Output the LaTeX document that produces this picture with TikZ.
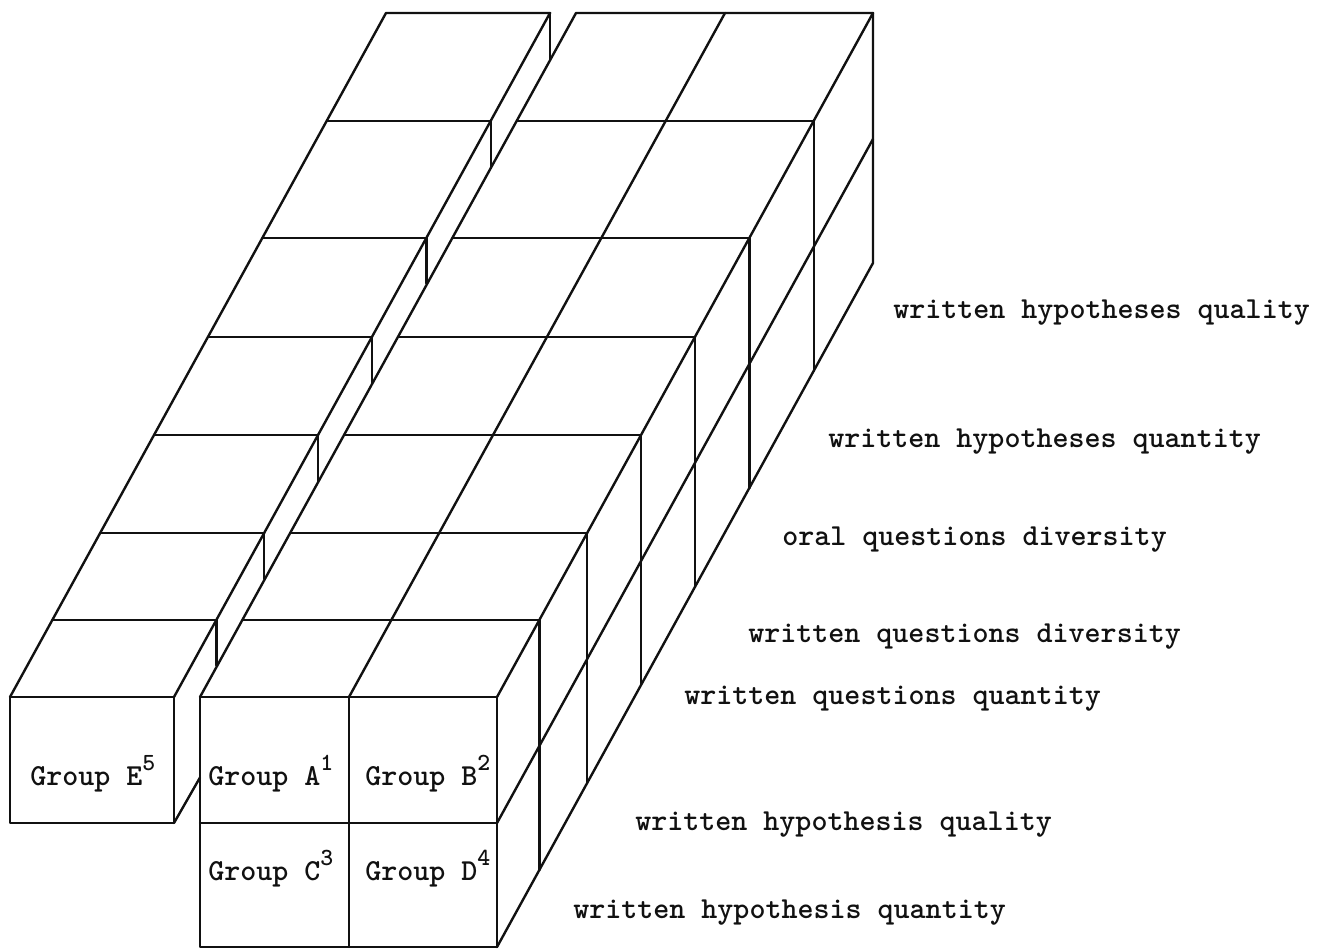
\documentclass[tikz,border=0pt]{standalone}
\usepackage{tikz}
\usetikzlibrary{calc}
\definecolor{ink}{HTML}{111111}
\definecolor{paper}{HTML}{FFFFFF}
\tikzset{
  edge/.style={draw=ink, line width=1.7pt, line join=round, line cap=round},
  dimlabel/.style={font=\fontsize{21.7}{26}\selectfont\ttfamily\bfseries, text=ink, anchor=base west, inner sep=0pt},
  grouplabel/.style={dimlabel},
}
\newcommand{\grpnum}[1]{\raisebox{10.2pt}{\fontsize{17.5}{18}\selectfont #1}}

\begin{document}
\begin{tikzpicture}[x=0.025cm,y=-0.025cm]
  \fill[paper] (0,0) rectangle (1326,949);
  \useasboundingbox (0,0) rectangle (1326,949);
  % depth rows, front to back
  \def\rows{697,620,533,435,337,238,121,13}

  % group E slab
  \draw[edge] (10,697) rectangle (174,823);
  \draw[edge] (10,697) -- (386,13) -- (550,13) -- (174,697);
  \foreach \y in \rows {
    \pgfmathsetmacro\s{0.55*(697-\y)}
    \draw[edge] (10+\s,\y) -- (174+\s,\y);
    \draw[edge] (174+\s,\y) -- (174+\s,\y+45.5);
  }
  \draw[edge] (174,823) -- (200,777.5);

  % main block, front face
  \draw[edge] (200,697) rectangle (497,947);
  \draw[edge] (349,697) -- (349,947);
  \draw[edge] (200,823) -- (497,823);
  % top face and right side
  \draw[edge] (200,697) -- (576,13) -- (873,13) -- (497,697);
  \draw[edge] (349,697) -- (725,13);
  \draw[edge] (873,13) -- (873,263) -- (497,947);
  \draw[edge] (497,823) -- (873,139);
  \foreach \y in \rows {
    \pgfmathsetmacro\s{0.55*(697-\y)}
    \draw[edge] (200+\s,\y) -- (497+\s,\y) -- (497+\s,\y+250);
  }

  % group cells
  \node[grouplabel] (grpE) at (30,785) {Group E\grpnum{5}};
  \node[grouplabel] (grpA) at (208,785) {Group A\grpnum{1}};
  \node[grouplabel] (grpB) at (365,785) {Group B\grpnum{2}};
  \node[grouplabel] (grpC) at (208,880) {Group C\grpnum{3}};
  \node[grouplabel] (grpD) at (365,880) {Group D\grpnum{4}};

  % dependent measures
  \foreach \x/\y/\nm/\txt in {
    893/318/hypqual/written hypotheses quality,
    828/447/hypquant/written hypotheses quantity,
    782/545/oraldiv/oral questions diversity,
    748/642/qdiv/written questions diversity,
    684/704/qquant/written questions quantity,
    635/830/hqual/written hypothesis quality,
    573/918/hquant/written hypothesis quantity} {
    \node[dimlabel] (\nm) at (\x,\y) {\txt};
  }
\end{tikzpicture}
\end{document}
